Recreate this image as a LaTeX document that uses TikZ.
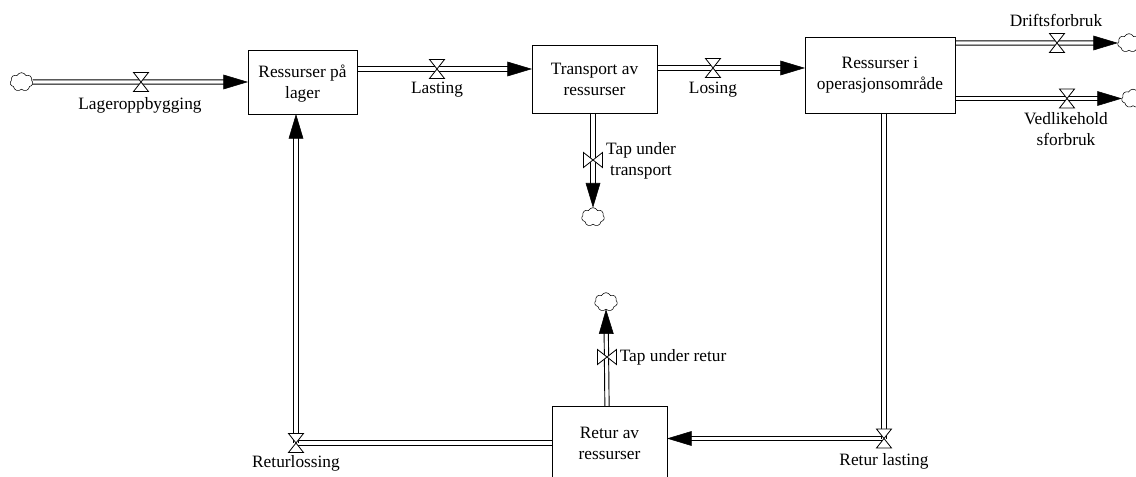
\documentclass[tikz,border=0pt]{standalone}
\usepackage{fontspec}
\setmainfont{Liberation Serif}
\usetikzlibrary{arrows.meta,shapes.symbols,decorations.markings}
\tikzset{
  stock/.style={draw,line width=0.65pt,align=center,inner sep=0pt,outer sep=0pt},
  lbl/.style={align=center,inner sep=0pt},
  sink/.style={cloud,cloud puffs=7,cloud puff arc=130,aspect=1.2,draw,line width=0.4pt,inner sep=0pt,outer sep=0pt,minimum width=17pt,minimum height=14pt},
  hflow/.style={preaction={draw,line width=0.7pt,transform canvas={yshift=1.6pt},shorten >=#1},
    preaction={draw,line width=0.7pt,transform canvas={yshift=-1.6pt},shorten >=#1}},
  hflow/.default=0pt,
  vflow/.style={preaction={draw,line width=0.7pt,transform canvas={xshift=1.6pt},shorten >=#1},
    preaction={draw,line width=0.7pt,transform canvas={xshift=-1.6pt},shorten >=#1}},
  vflow/.default=0pt,
  flowtip/.style={postaction={decorate,decoration={markings,mark=at position 1 with {\arrow{Triangle[length=18.5pt,width=11pt]}}}}},
  valve/.pic={\draw[fill=white,line width=0.6pt] (-7.5,-9.5) -- (7.5,-9.5) -- (-7.5,9.5) -- (7.5,9.5) -- cycle;},
  valvev/.pic={\draw[fill=white,line width=0.6pt] (-9.5,-7.5) -- (-9.5,7.5) -- (9.5,-7.5) -- (9.5,7.5) -- cycle;}
}
\begin{document}
\begin{tikzpicture}[x=0.75pt,y=-0.75pt,font=\fontsize{13}{15.75}\selectfont]
    \useasboundingbox (0,0) rectangle (1136,477);
    \node[stock,minimum width=81.75pt,minimum height=48pt] (lager) at (302.5,82) {\rule{0pt}{12pt}Ressurser på\\lager};
    \node[stock,minimum width=93.75pt,minimum height=51pt] (transport) at (594.5,79) {Transport av\\ressurser};
    \node[stock,minimum width=112.5pt,minimum height=57pt] (omraade) at (880,75) {Ressurser i\\operasjonsområde};
    \node[stock,minimum width=86.25pt,minimum height=56.25pt] (retur) at (609.5,443.5) {Retur av\\ressurser};

    \node[sink] (kilde) at (21.5,82) {};
    \node[sink] (tapA) at (593,217) {};
    \node[sink] (tapB) at (606,302) {};
    \node[sink] (drift) at (1129,43) {};
    \node[sink] (vedl) at (1133,98.5) {};

    \coordinate (vlager) at (141,82);
    \coordinate (vlast) at (437,69);
    \coordinate (vloss) at (713,68);
    \coordinate (vdrift) at (1057,43);
    \coordinate (vvedl) at (1067,98.5);
    \coordinate (vtapA) at (593,160);
    \coordinate (vtapB) at (607,357);
    \coordinate (vrlast) at (884,438.5);
    \coordinate (vrloss) at (296,443);

    \path[hflow=10pt,flowtip] (kilde.east) -- (vlager -| lager.west);
    \path[hflow=10pt,flowtip] (vlast -| lager.east) -- (vlast -| transport.west);
    \path[hflow=10pt,flowtip] (vloss -| transport.east) -- (vloss -| omraade.west);
    \path[hflow=10pt,flowtip] (vdrift -| omraade.east) -- (drift.west);
    \path[hflow=10pt,flowtip] (vvedl -| omraade.east) -- (vvedl -| vedl.west);
    \path[vflow=10pt,flowtip] (vtapA |- transport.south) -- (tapA.north);
    \path[vflow=10pt,flowtip] (vtapB |- retur.north) -- (tapB.south);
    \path[vflow] (vrlast |- omraade.south) -- (vrlast);
    \path[hflow=10pt,flowtip] (vrlast) -- (vrlast -| retur.east);
    \path[hflow] (vrloss -| retur.west) -- (vrloss);
    \path[vflow=10pt,flowtip] (vrloss) -- (vrloss |- lager.south);

    \pic at (vlager) {valve};
    \pic at (vlast) {valve};
    \pic at (vloss) {valve};
    \pic at (vdrift) {valve};
    \pic at (vvedl) {valve};
    \pic at (vtapA) {valvev};
    \pic at (vtapB) {valvev};
    \pic at (vrlast) {valve};
    \pic at (vrloss) {valve};

    \node[lbl] (llager) at (140,105) {Lageroppbygging};
    \node[lbl] (llast) at (437,90) {Lasting};
    \node[lbl] (lloss) at (713,90) {Losing};
    \node[lbl] (ldrift) at (1056,20.5) {Driftsforbruk};
    \node[lbl] (lvedl) at (1066,129) {Vedlikehold\\sforbruk};
    \node[lbl] (ltapA) at (641,161) {Tap under\\transport};
    \node[lbl,anchor=west] (ltapB) at (619.5,357) {Tap under retur};
    \node[lbl] (lrlast) at (884,461) {Retur lasting};
    \node[lbl] (lrloss) at (296,463.5) {Returlossing};
\end{tikzpicture}
\end{document}
